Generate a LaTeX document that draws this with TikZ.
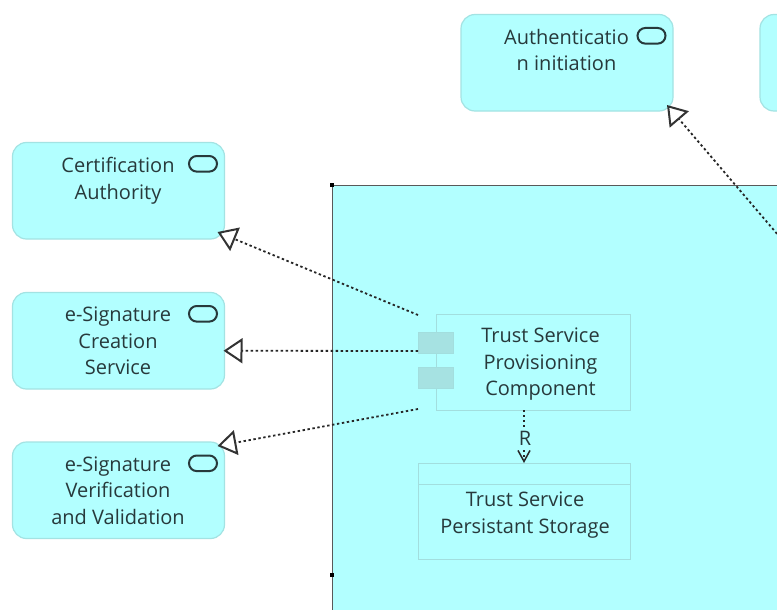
\documentclass[tikz,border=0pt]{standalone}
\usepackage{fontspec}
\setmainfont{Open Sans}
\usetikzlibrary{arrows.meta}
\definecolor{cy}{HTML}{B2FFFF}
\definecolor{cyb}{HTML}{A3E3E3}
\definecolor{inb}{HTML}{A2DEDE}
\definecolor{smf}{HTML}{A6E2E2}
\definecolor{tx}{HTML}{27393B}
\tikzset{
  svc/.style={draw=cyb,fill=cy,line width=1.2pt,rounded corners=14pt,minimum width=212pt,minimum height=96.5pt,inner sep=0pt,outer sep=0pt},
  pill/.style={draw=tx,line width=2pt,rounded corners=7.8pt,minimum width=28pt,minimum height=15.6pt,inner sep=0pt,outer sep=0pt},
  txt/.style={text=tx,font=\fontsize{20}{26.5}\selectfont,align=center,anchor=north,inner sep=0pt},
  elem/.style={draw=inb,fill=cy,line width=1pt,inner sep=0pt,outer sep=0pt},
  port/.style={draw=inb,fill=smf,line width=1pt,minimum width=35pt,minimum height=21.5pt,inner sep=0pt,outer sep=0pt},
  real/.style={draw=black!85,line width=1.8pt,dash pattern=on 2.4pt off 2.6pt,
    -{Triangle[open,length=19pt,width=25pt,line width=2pt,color=black!80]}},
  cornerdot/.style={fill=black,inner sep=0pt,minimum size=3.5pt},
}
\begin{document}
\begin{tikzpicture}[x=1pt,y=-1pt]
\clip (0,0) rectangle (777,610);
\fill[white] (0,0) rectangle (777,610);
% group
\node[draw=black!65,fill=cy,line width=1pt,inner sep=0pt,outer sep=0pt,anchor=north west,minimum width=700pt,minimum height=700pt] (grp) at (332,185) {};
\node[cornerdot] (m1) at (332,185) {};
\node[cornerdot] (m2) at (332,575) {};
% services
\node[svc,anchor=north west] (auth) at (461,14.5) {};
\node[svc,anchor=north west] (other) at (760,14.5) {};
\node[svc,anchor=north west] (cert) at (12.5,142.5) {};
\node[svc,anchor=north west] (crea) at (12.5,292.5) {};
\node[svc,anchor=north west] (veri) at (12.5,442) {};
\foreach \b in {auth,cert,crea,veri}
  \node[pill,anchor=north east] (p\b) at ([shift={(-7.5,13.5)}]\b.north east) {};
\node[txt] (tauth) at (566.5,29) {Authenticatio\\n initiation};
\node[txt] (tcert) at (118,157) {Certification\\Authority};
\node[txt] (tcrea) at (118,307) {e-Signature\\Creation\\Service};
\node[txt] (tveri) at (118,456.5) {e-Signature\\Verification\\and Validation};
% component
\node[elem,anchor=north west,minimum width=194pt,minimum height=96pt] (comp) at (436,314) {};
\node[port] (p1) at (436,343) {};
\node[port] (p2) at (436,378) {};
\node[txt] (tcomp) at (540.5,328) {Trust Service\\Provisioning\\Component};
% storage
\node[elem,anchor=north west,minimum width=212pt,minimum height=96.5pt] (stor) at (418,463) {};
\coordinate (sl) at (418,484.5);
\coordinate (sr) at (630,484.5);
\draw[draw=inb,line width=1pt] (sl) -- (sr);
\node[txt] (tstor) at (525,492) {Trust Service\\Persistant Storage};
% connectors
\draw[real] ([shift={(-18,1)}]comp.north west) -- ([shift={(-7,-7)}]cert.south east);
\draw[real] ([shift={(-18,37)}]comp.north west) -- ([shift={(-1,10)}]crea.east);
\draw[real] ([shift={(-18,-1)}]comp.south west) -- ([shift={(-7,4)}]veri.north east);
\coordinate (off) at (790,249);
\draw[real] (off) -- ([shift={(-6,-6)}]auth.south east);
\draw[line width=1.8pt,draw=black!85,dash pattern=on 2.4pt off 2.6pt,-{Straight Barb[length=11pt,width=12pt,line width=1.5pt]}] (comp.south -| stor.north) -- (stor.north);
\node[text=tx,fill=cy,font=\fontsize{20}{22}\selectfont,inner sep=0pt,minimum height=20pt,minimum width=16pt] (rl) at (525,438) {R};
\end{tikzpicture}
\end{document}
